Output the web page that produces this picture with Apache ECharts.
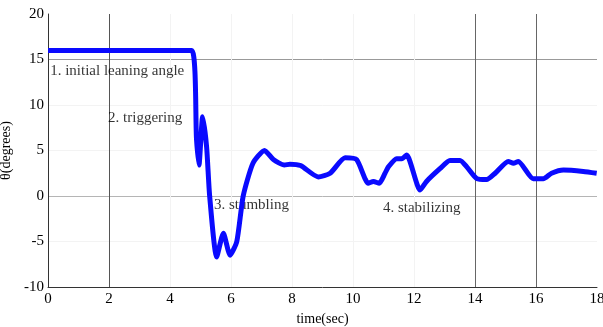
<!DOCTYPE html>
<html>
<head>
<meta charset="utf-8">
<script src="https://cdn.jsdelivr.net/npm/echarts@6/dist/echarts.min.js"></script>
<style>html,body{margin:0;padding:0;background:#fff;}#c{width:603px;height:327px;}</style>
</head>
<body>
<div id="c"></div>
<script>
var timeSec = [0, 4.71, 4.87, 4.95, 5.07, 5.2, 5.3, 5.53, 5.75, 5.97, 6.19, 6.4, 6.72, 7.1, 7.39, 7.75, 7.93, 8.28, 8.86, 9.25, 9.74, 10.12, 10.5, 10.67, 10.86, 11.05, 11.16, 11.43, 11.6, 11.76, 12.2, 12.41, 12.85, 13.18, 13.51, 13.73, 14.06, 14.38, 14.66, 15.09, 15.26, 15.42, 15.91, 16.24, 16.51, 16.9, 17.55, 17.99];
var thetaDeg = [16, 16, 6.2, 3.4, 8.7, 5.4, 0, -6.7, -4.1, -6.5, -5.0, 0, 3.6, 5.0, 4.0, 3.4, 3.5, 3.35, 2.1, 2.5, 4.2, 4.0, 1.4, 1.6, 1.4, 2.5, 3.2, 4.1, 4.1, 4.5, 0.66, 1.6, 3.0, 3.9, 3.9, 3.2, 1.9, 1.8, 2.5, 3.8, 3.6, 3.8, 1.9, 1.9, 2.5, 2.85, 2.7, 2.5];
var xTicks = [0, 2, 4, 6, 8, 10, 12, 14, 16, 18];
var yTicks = [-10, -5, 0, 5, 10, 15, 20];
var noteTexts = ['1. initial leaning angle', '2. triggering', '3. stumbling', '4. stabilizing'];
var noteTime = [0.07, 1.97, 5.44, 10.98];
var noteTheta = [13.7, 8.6, -1.0, -1.3];

var lineData = timeSec.map(function (t, i) { return [t, thetaDeg[i]]; });
var noteData = noteTexts.map(function (s, i) { return { value: [noteTime[i], noteTheta[i]], name: s }; });

var chart = echarts.init(document.getElementById('c'));
var serif = '"Liberation Serif", "DejaVu Serif", serif';
chart.setOption({
  animation: false,
  backgroundColor: '#fff',
  grid: { left: 48, right: 6, top: 14, bottom: 40, containLabel: false, outerBoundsMode: 'none' },
  xAxis: {
    type: 'value', min: 0, max: 18, interval: 2,
    name: 'time(sec)', nameLocation: 'middle', nameGap: 25,
    nameTextStyle: { fontFamily: serif, fontSize: 14, color: '#000' },
    axisLine: { onZero: false, lineStyle: { color: '#333', width: 1 } },
    axisTick: { show: false },
    axisLabel: { fontFamily: serif, fontSize: 15, color: '#000', margin: 5 },
    splitLine: { show: true, lineStyle: { width: 1, color: ['#fff', '#555', '#f3f3f3', '#f3f3f3', '#f3f3f3', '#f3f3f3', '#f3f3f3', '#666', '#666', '#fff'] } }
  },
  yAxis: {
    type: 'value', min: -10, max: 20, interval: 5,
    name: 'θ(degrees)', nameLocation: 'middle', nameGap: 32, nameRotate: 90,
    nameTextStyle: { fontFamily: serif, fontSize: 14, color: '#000' },
    axisLine: { show: true, onZero: false, lineStyle: { color: '#333', width: 1 } },
    axisTick: { show: false },
    axisLabel: { fontFamily: serif, fontSize: 15, color: '#000', margin: 4 },
    splitLine: { show: true, lineStyle: { width: 1, color: ['#fff', '#f3f3f3', '#b5b5b5', '#f3f3f3', '#f3f3f3', '#999', '#fff'] } }
  },
  series: [
    {
      type: 'line', data: lineData, showSymbol: false, smooth: 0.2,
      lineStyle: { color: '#0a0aff', width: 5 }, z: 3
    },
    {
      type: 'scatter', data: noteData, symbolSize: 0, z: 2,
      label: {
        show: true, position: 'right', distance: 0,
        formatter: function (p) { return p.name; },
        fontFamily: serif, fontSize: 15, color: '#000'
      }
    }
  ]
});
</script>
</body>
</html>
